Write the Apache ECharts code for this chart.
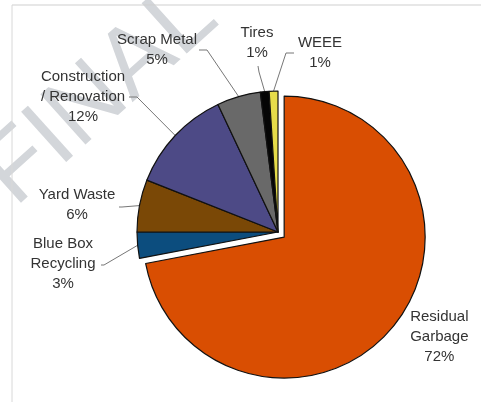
<!DOCTYPE html>
<html>
<head>
<meta charset="utf-8">
<script src="https://cdn.jsdelivr.net/npm/echarts@6/dist/echarts.min.js"></script>
<style>html,body{margin:0;padding:0;background:#fff;}#c{width:481px;height:402px;}</style>
</head>
<body>
<div id="c"></div>
<script>
const categories = ['Residual\nGarbage', 'Blue Box\nRecycling', 'Yard Waste', 'Construction\n/ Renovation', 'Scrap Metal', 'Tires', 'WEEE'];
const values = [72, 3, 6, 12, 5, 1, 1];
const colors = ['#d94e02', '#0c4d7e', '#7a4806', '#4d4a86', '#696969', '#050505', '#e6dc4a'];

// label layout (positions only)
const labelCfg = [
  { x: 427, y: 353, line: null },
  { x: 63, y: 264, line: [[104, 265], [101, 265]] },
  { x: 77, y: 205, line: [[122, 207], [119, 207]] },
  { x: 83, y: 97, line: [[137, 97], [129, 97]] },
  { x: 157, y: 50, line: [[207, 50], [199, 50]] },
  { x: 257, y: 43, line: [[259, 72], [258, 66]] },
  { x: 320, y: 53, line: [[286, 53], [294, 53]] }
];

const chart = echarts.init(document.getElementById('c'), null, { renderer: 'canvas' });
chart.setOption({
  backgroundColor: '#fff',
  animation: false,
  graphic: [
    { type: 'text', z: -10, x: 100, y: 95, rotation: 42 * Math.PI / 180,
      style: { text: 'FINAL', fontSize: 98, fontFamily: 'Liberation Sans', fill: '#d3d6da', align: 'center', verticalAlign: 'middle' } },
    { type: 'line', z: -5, shape: { x1: 12, y1: 5, x2: 481, y2: 5 }, style: { stroke: '#cfcfcf', lineWidth: 1 } },
    { type: 'line', z: -5, shape: { x1: 12, y1: 5, x2: 12, y2: 402 }, style: { stroke: '#d8d8d8', lineWidth: 1 } }
  ],
  series: [{
    type: 'pie',
    center: [278, 232],
    radius: 141,
    startAngle: 90,
    clockwise: true,
    selectedMode: 'single',
    selectedOffset: 8,
    avoidLabelOverlap: false,
    itemStyle: { borderColor: '#111', borderWidth: 1.2 },
    emphasis: { disabled: true },
    label: {
      show: true,
      position: 'outside',
      color: '#333',
      fontFamily: 'Liberation Sans',
      fontSize: 15,
      lineHeight: 20,
      align: 'center',
      formatter: p => p.name + '\n' + Math.round(p.percent) + '%'
    },
    labelLine: { show: true, lineStyle: { color: '#777', width: 1 } },
    labelLayout: function (params) {
      const cfg = labelCfg[params.dataIndex];
      const out = { x: cfg.x, y: cfg.y, align: 'center', verticalAlign: 'middle' };
      if (cfg.line && params.labelLinePoints) {
        out.labelLinePoints = [params.labelLinePoints[0], cfg.line[0], cfg.line[1]];
      }
      return out;
    },
    data: categories.map((c, i) => ({
      name: c,
      value: values[i],
      selected: i === 0,
      itemStyle: { color: colors[i] },
      labelLine: { show: i !== 0 }
    }))
  }]
});
</script>
</body>
</html>
